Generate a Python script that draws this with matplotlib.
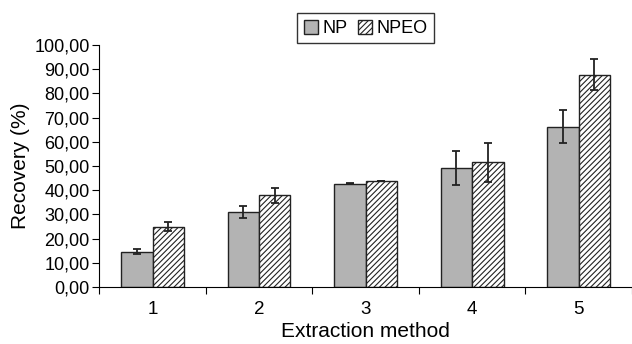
import matplotlib.pyplot as plt
import matplotlib.ticker as mticker
import numpy as np

plt.rcParams['font.family'] = ['Liberation Sans', 'DejaVu Sans']
plt.rcParams['hatch.linewidth'] = 0.8

methods = ['1', '2', '3', '4', '5']
np_vals = [14.6, 30.8, 42.7, 49.1, 66.3]
np_err = [1.0, 2.5, 0.3, 6.9, 6.8]
npeo_vals = [24.9, 37.9, 43.7, 51.5, 87.8]
npeo_err = [1.9, 3.2, 0.0, 8.0, 6.5]

fig = plt.figure(figsize=(6.32, 3.44), dpi=100)
ax = fig.add_axes([0.157, 0.166, 0.843, 0.703])

x = np.arange(1, len(methods) + 1)
width = 0.295
ax.bar(x - width / 2, np_vals, width, color='#b3b3b3', edgecolor='#222222', linewidth=1.0,
       yerr=np_err, capsize=3, error_kw=dict(ecolor='#222222', elinewidth=1.3, capthick=1.3), label='NP')
ax.bar(x + width / 2, npeo_vals, width, color='white', edgecolor='#222222', linewidth=1.0,
       hatch='//////', yerr=npeo_err, capsize=3, error_kw=dict(ecolor='#222222', elinewidth=1.3, capthick=1.3),
       label='NPEO')

ax.set_xlim(0.5, 5.5)
ax.set_ylim(0, 100)
ax.set_yticks(np.arange(0, 101, 10))
ax.yaxis.set_major_formatter(mticker.FuncFormatter(lambda v, p: f'{v:.2f}'.replace('.', ',')))
ax.set_xticks(x)
ax.set_xticklabels(methods)
ax.set_xticks(np.arange(0.5, 6, 1), minor=True)
ax.tick_params(axis='x', which='major', length=0, labelsize=13.5, pad=10)
ax.tick_params(axis='x', which='minor', length=5, direction='out', width=0.8)
ax.tick_params(axis='y', labelsize=13, length=5, width=0.8, pad=2)
for s in ['top', 'right']:
    ax.spines[s].set_visible(False)
ax.spines['left'].set_linewidth(0.8)
ax.spines['bottom'].set_linewidth(0.8)

ax.set_ylabel('Recovery (%)', fontsize=15, labelpad=3)
ax.set_xlabel('Extraction method', fontsize=15, labelpad=3)

leg = ax.legend(loc='lower center', bbox_to_anchor=(0.5, 1.0), ncol=2, frameon=True, fancybox=False,
                edgecolor='black', fontsize=13, handlelength=0.8, handleheight=0.8, handletextpad=0.25,
                columnspacing=0.55, borderpad=0.35, borderaxespad=0.1)
leg.get_frame().set_linewidth(1.0)

fig.savefig('out.png', dpi=100)
